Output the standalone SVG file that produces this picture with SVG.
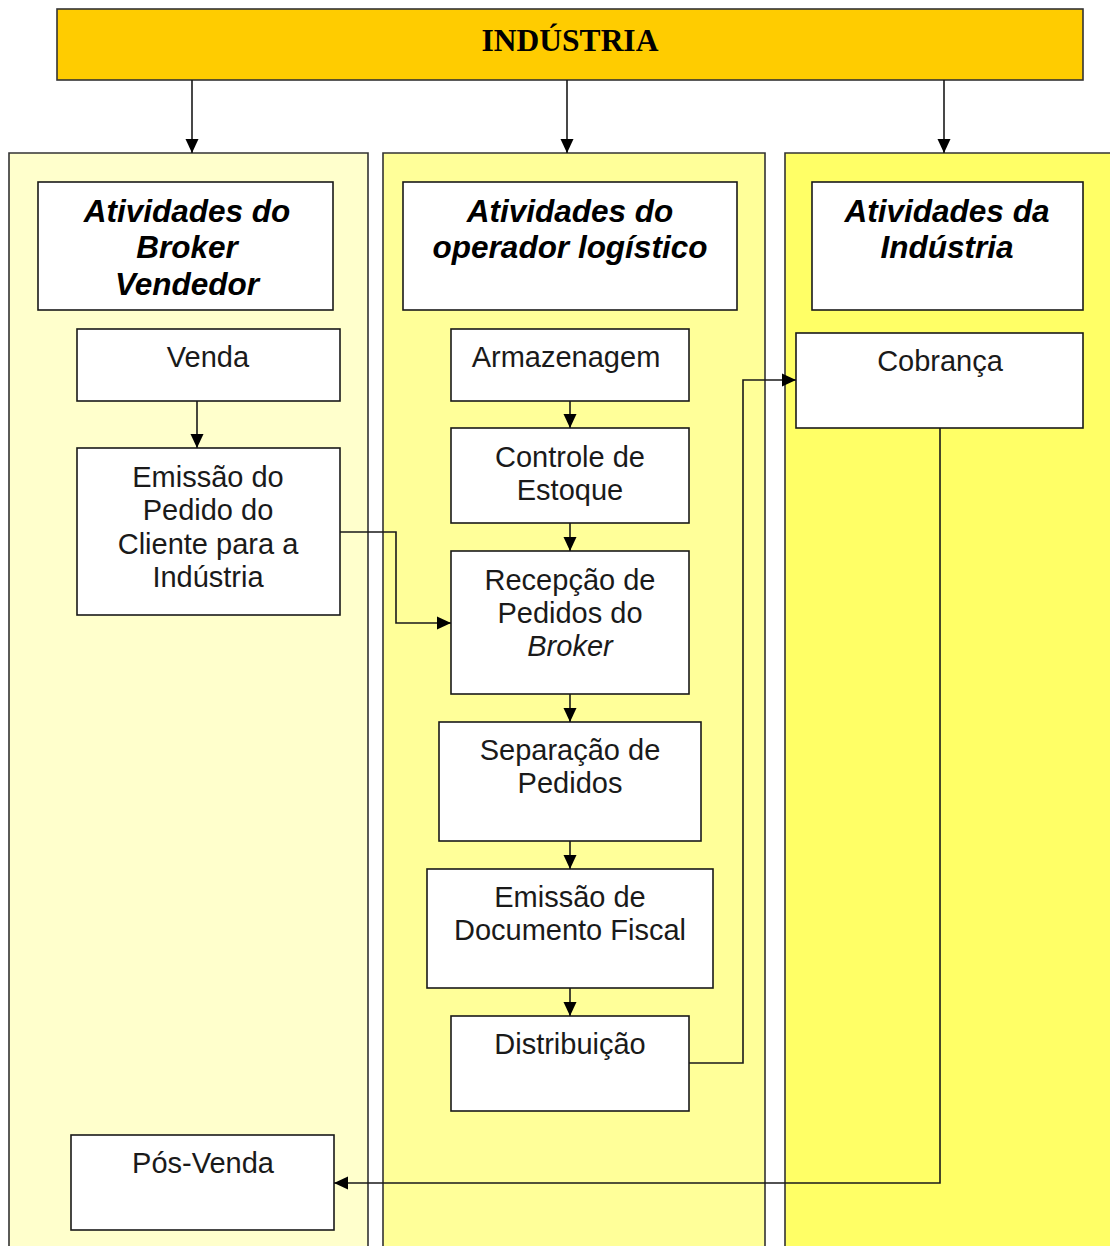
<svg xmlns="http://www.w3.org/2000/svg" width="1110" height="1246" viewBox="0 0 1110 1246">
  <defs>
    <marker id="arrow" viewBox="0 0 14 14" refX="14" refY="7" markerWidth="14" markerHeight="14" markerUnits="userSpaceOnUse" orient="auto">
      <path d="M0,0.5 L14,7 L0,13.5 Z" fill="#000"/>
    </marker>
  </defs>
  <style>
    .lane { stroke: #333; stroke-width: 1.6; }
    .box { fill: #fff; stroke: #1a1a1a; stroke-width: 1.6; }
    .head { font-family: "Liberation Sans", Arial, sans-serif; font-weight: bold; font-style: italic; font-size: 31.5px; fill: #000; text-anchor: middle; }
    .txt { font-family: "Liberation Sans", Arial, sans-serif; font-size: 29px; fill: #1a1a1a; text-anchor: middle; }
    .conn { fill: none; stroke: #1a1a1a; stroke-width: 1.6; marker-end: url(#arrow); }
  </style>

  <rect width="1110" height="1246" fill="#fff"/>

  <!-- swimlanes (open at the bottom) -->
  <g id="lane-broker">
    <path d="M9,1250 V153 H368 V1250" fill="#FFFFCC" class="lane"/>
  </g>
  <g id="lane-operador">
    <path d="M383,1250 V153 H765 V1250" fill="#FFFF99" class="lane"/>
  </g>
  <g id="lane-industria">
    <path d="M785,1250 V153 H1114 V1250" fill="#FFFF66" class="lane"/>
  </g>

  <!-- top banner -->
  <g id="industria">
    <rect x="57" y="9" width="1026" height="71" fill="#FFCC00" stroke="#333" stroke-width="1.6"/>
    <text x="570" y="51" font-family="Liberation Serif, 'Times New Roman', serif" font-weight="bold" font-size="31.5" text-anchor="middle" fill="#000">INDÚSTRIA</text>
  </g>

  <!-- lane headers -->
  <g id="hdr-broker">
    <rect class="box" x="38" y="182" width="295" height="128"/>
    <text class="head" x="187" y="222">Atividades do</text>
    <text class="head" x="187" y="258">Broker</text>
    <text class="head" x="187" y="295">Vendedor</text>
  </g>
  <g id="hdr-operador">
    <rect class="box" x="403" y="182" width="334" height="128"/>
    <text class="head" x="570" y="222">Atividades do</text>
    <text class="head" x="570" y="258">operador logístico</text>
  </g>
  <g id="hdr-industria">
    <rect class="box" x="812" y="182" width="271" height="128"/>
    <text class="head" x="947" y="222">Atividades da</text>
    <text class="head" x="947" y="258">Indústria</text>
  </g>

  <!-- broker activities -->
  <g id="venda">
    <rect class="box" x="77" y="329" width="263" height="72"/>
    <text class="txt" x="208" y="367">Venda</text>
  </g>
  <g id="emissao-pedido">
    <rect class="box" x="77" y="448" width="263" height="167"/>
    <text class="txt" x="208" y="487">Emissão do</text>
    <text class="txt" x="208" y="520">Pedido do</text>
    <text class="txt" x="208" y="554">Cliente para a</text>
    <text class="txt" x="208" y="587">Indústria</text>
  </g>
  <g id="pos-venda">
    <rect class="box" x="71" y="1135" width="263" height="95"/>
    <text class="txt" x="203" y="1173">Pós-Venda</text>
  </g>

  <!-- logistics operator activities -->
  <g id="armazenagem">
    <rect class="box" x="451" y="329" width="238" height="72"/>
    <text class="txt" x="566" y="367">Armazenagem</text>
  </g>
  <g id="controle-estoque">
    <rect class="box" x="451" y="428" width="238" height="95"/>
    <text class="txt" x="570" y="467">Controle de</text>
    <text class="txt" x="570" y="500">Estoque</text>
  </g>
  <g id="recepcao-pedidos">
    <rect class="box" x="451" y="551" width="238" height="143"/>
    <text class="txt" x="570" y="590">Recepção de</text>
    <text class="txt" x="570" y="623">Pedidos do</text>
    <text class="txt" x="570" y="656" font-style="italic">Broker</text>
  </g>
  <g id="separacao">
    <rect class="box" x="439" y="722" width="262" height="119"/>
    <text class="txt" x="570" y="760">Separação de</text>
    <text class="txt" x="570" y="793">Pedidos</text>
  </g>
  <g id="documento-fiscal">
    <rect class="box" x="427" y="869" width="286" height="119"/>
    <text class="txt" x="570" y="907">Emissão de</text>
    <text class="txt" x="570" y="940">Documento Fiscal</text>
  </g>
  <g id="distribuicao">
    <rect class="box" x="451" y="1016" width="238" height="95"/>
    <text class="txt" x="570" y="1054">Distribuição</text>
  </g>

  <!-- industry activities -->
  <g id="cobranca">
    <rect class="box" x="796" y="333" width="287" height="95"/>
    <text class="txt" x="940" y="371">Cobrança</text>
  </g>

  <!-- connectors -->
  <g id="connectors">
    <path class="conn" d="M192,80 V153"/>
    <path class="conn" d="M567,80 V153"/>
    <path class="conn" d="M944,80 V153"/>
    <path class="conn" d="M197,401 V448"/>
    <path class="conn" d="M570,401 V428"/>
    <path class="conn" d="M570,523 V551"/>
    <path class="conn" d="M570,694 V722"/>
    <path class="conn" d="M570,841 V869"/>
    <path class="conn" d="M570,988 V1016"/>
    <path class="conn" d="M340,532 H396 V623 H451"/>
    <path class="conn" d="M689,1063 H743 V380 H796"/>
    <path class="conn" d="M940,428 V1183 H334"/>
  </g>
</svg>
